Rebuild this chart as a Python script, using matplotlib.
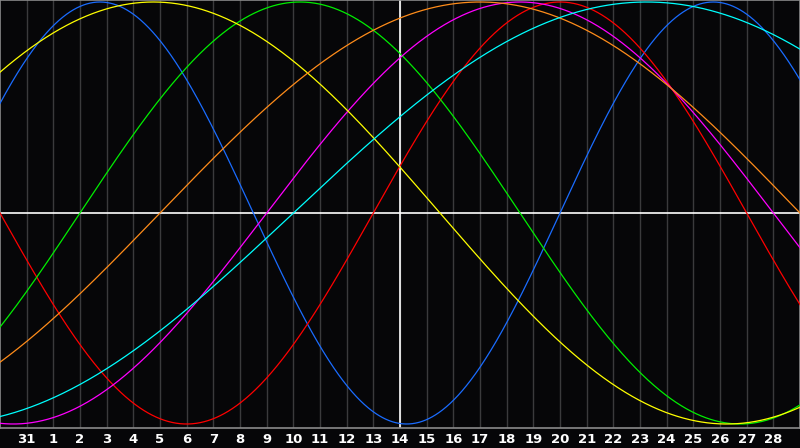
import numpy as np
import matplotlib
matplotlib.use("Agg")
import matplotlib.pyplot as plt

# biorhythm cycles (periods in days) and colours
ciclos = ["fisico", "emocional", "intelectual", "intuitivo", "estetico", "conciencia", "espiritual"]
periodos = [23, 28, 33, 38, 43, 48, 53]
colores = ["#1a6cff", "#ff0000", "#00ee00", "#ff00ff", "#ffff00", "#ff8c1a", "#00ffff"]

# days lived on the centre day (day 14)
dias_vividos = 17865
dia_centro = 15  # grid position of day 14

# day labels along the bottom, grid positions 1..29
etiquetas_dias = ["31"] + [str(d) for d in range(1, 29)]

W, H = 800, 448
fig = plt.figure(figsize=(W / 100, H / 100), dpi=100)
fig.patch.set_facecolor("#060608")

# plot area: rows 0..428
ax = fig.add_axes([0, (H - 428) / H, 1, 428 / H])
ax.set_facecolor("#060608")
ax.set_xlim(0, 30)
ax.set_ylim(-1 - 4 / 211, 1 + 2 / 211)

# vertical day grid
for k in range(1, 30):
    ax.axvline(k, color="#3a3a3c", lw=1.0, zorder=1)

ax.axvline(dia_centro, color="white", lw=1.2, zorder=2)
ax.axhline(0, color="white", lw=1.2, zorder=2)

k = np.linspace(0, 30, 1200)
for nombre, p, c in zip(ciclos, periodos, colores):
    n = dias_vividos + (k - dia_centro)
    ax.plot(k, np.sin(2 * np.pi * n / p), color=c, lw=0.9, zorder=3)

for s in ax.spines.values():
    s.set_color("#8a8a8a")
    s.set_linewidth(1.2)
ax.set_xticks([])
ax.set_yticks([])

for i, lab in enumerate(etiquetas_dias):
    fig.text((i + 1) / 30, 1 - 439 / H, lab, color="white", fontsize=9.5,
             fontweight="bold", ha="center", va="center", family="DejaVu Sans")

fig.savefig("out.png", dpi=100, facecolor=fig.get_facecolor())
